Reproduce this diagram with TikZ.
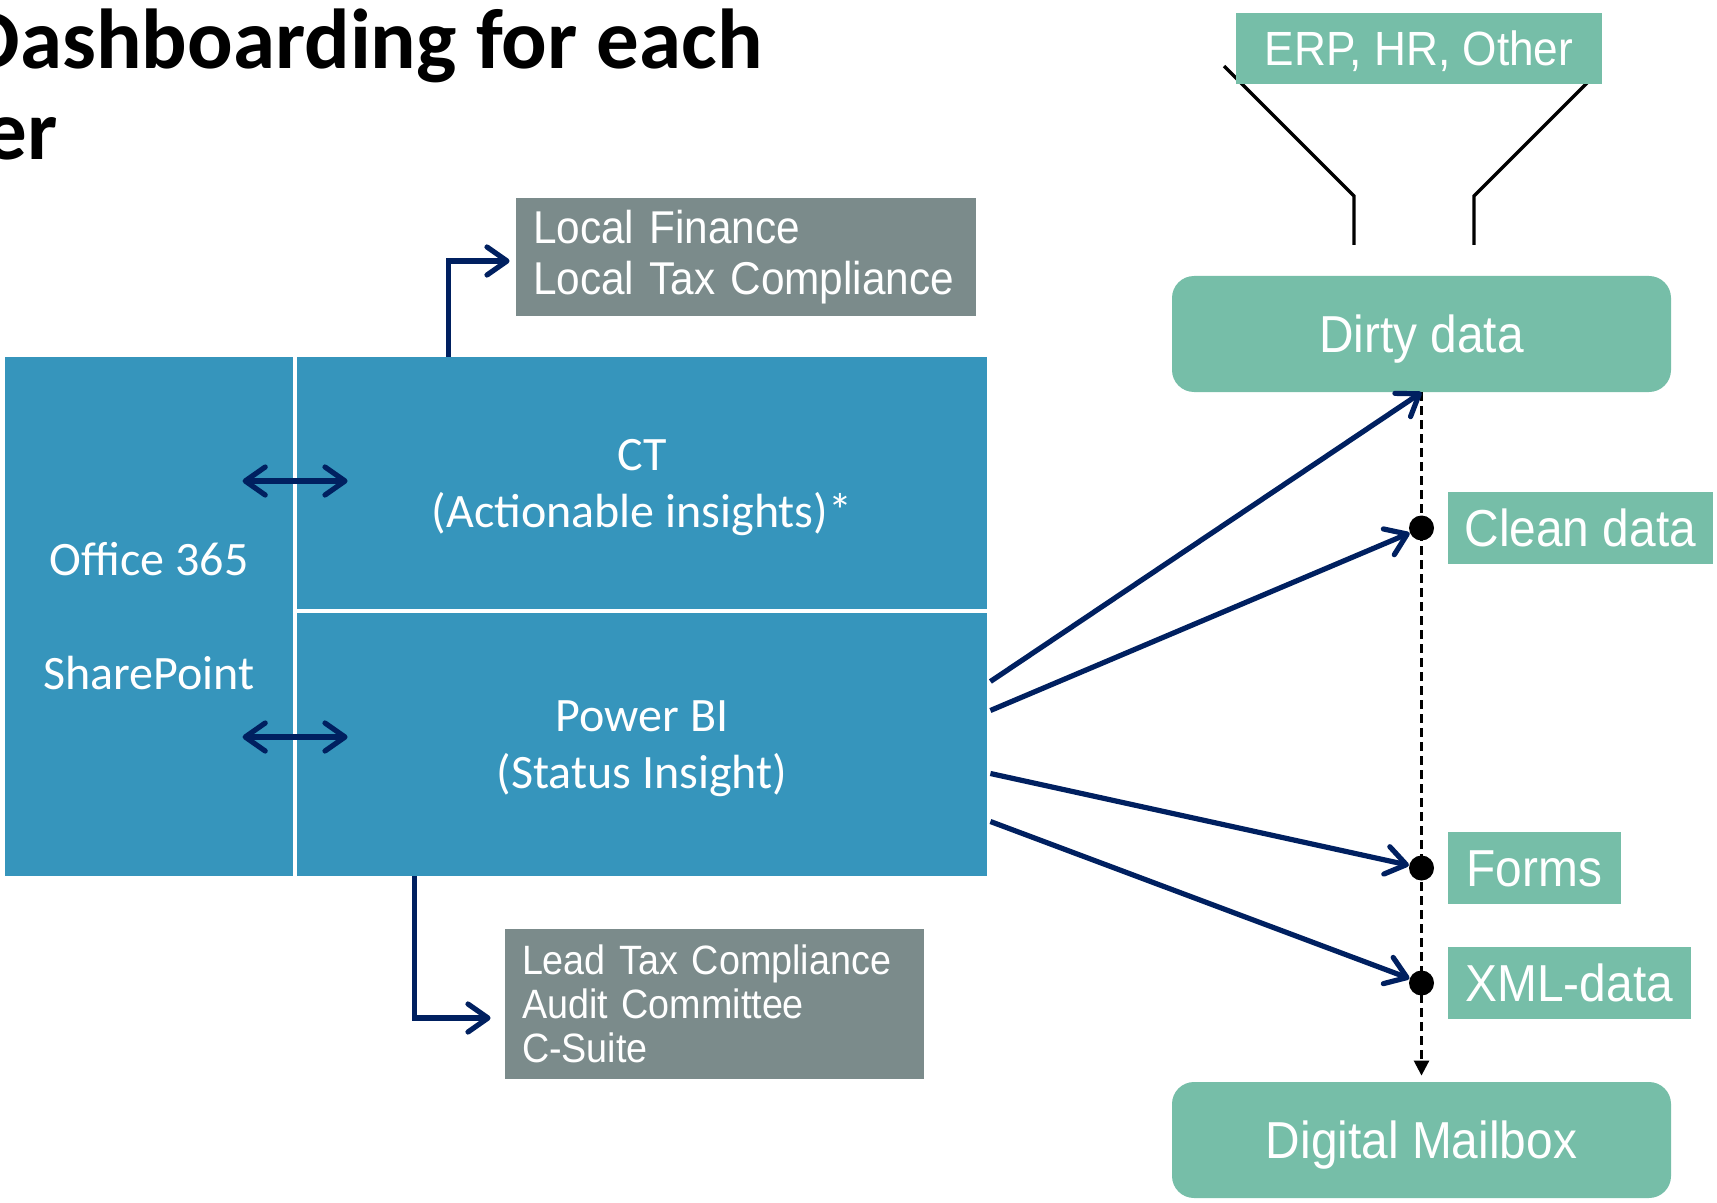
\documentclass[tikz,border=0pt]{standalone}
\usepackage{fontspec}
\setmainfont{Carlito}
\newfontfamily\rfont[FakeStretch=0.92]{Liberation Sans}
\usepackage{tikz}
\usetikzlibrary{positioning,arrows.meta}

\definecolor{tileblue}{HTML}{3695BC}
\definecolor{mint}{HTML}{76BEA8}
\definecolor{slate}{HTML}{7B8B8B}
\definecolor{navy}{HTML}{002060}

\tikzset{
  tilebox/.style={fill=tileblue,text=white,align=center,inner sep=0pt,font=\fontsize{24}{28.5}\selectfont},
  mintbox/.style={fill=mint,text=white,inner sep=0pt,minimum height=36pt,text height=18.6pt,text depth=0pt,font=\rfont\fontsize{26}{30}\selectfont},
  mintround/.style={mintbox,rounded corners=11pt,minimum width=249.5pt,minimum height=58pt},
  slatebox/.style={fill=slate,text=white,align=left,inner xsep=8.5pt,inner ysep=0pt},
  flow/.style={navy,line width=2.6pt},
  joint/.style={circle,fill=black,inner sep=0pt,minimum size=12.5pt},
  headline/.style={anchor=base east,inner sep=0pt,font=\bfseries\fontsize{42.5}{45}\selectfont}
}

\begin{document}
\begin{tikzpicture}[x=0.5pt,y=-0.5pt,>={Straight Barb[length=10pt,width=14pt,round]}]
\useasboundingbox (0,0) rectangle (1717,1203);
\clip (0,0) rectangle (1717,1203);
% title
\node[headline] (title) at (763,69) {Dashboarding for each};
\node[headline] (title2) at (58,160) {er};
% platform
\node[tilebox,minimum width=144pt,minimum height=259.5pt] (office) at (149,616.5) {Office 365\\[28.5pt]SharePoint};
\node[tilebox,text depth=0pt,minimum width=345pt,minimum height=126pt] (ct) at (642,483) {CT\\(Actionable insights)*};
\node[tilebox,text depth=0pt,minimum width=345pt,minimum height=131.5pt] (pbi) at (642,744.5) {Power BI\\(Status Insight)};
\draw[flow,<->] ([xshift=-27pt,yshift=1pt]ct.west) -- ([xshift=25.5pt,yshift=1pt]ct.west);
\draw[flow,<->] ([xshift=-27pt,yshift=3.75pt]pbi.west) -- ([xshift=25.5pt,yshift=3.75pt]pbi.west);
% audiences
\node[slatebox,text width=213pt,minimum height=59pt,font=\rfont\fontsize{23}{25.5}\selectfont] (local) at (746,257) {Local Finance\\Local Tax Compliance};
\node[slatebox,text width=192.5pt,minimum height=75pt,font=\rfont\fontsize{20.5}{22}\selectfont] (lead) at (714.5,1004) {Lead Tax Compliance\\Audit Committee\\C-Suite};
\draw[flow,->,shorten >=3pt] ([xshift=76pt]ct.north west) |- ([yshift=-2pt]local.west);
\draw[flow,->,shorten >=7pt] ([xshift=59pt]pbi.south west) |- ([yshift=-7pt]lead.west);
% sources
\draw[line width=1.7pt] (1224,66) -- (1354,196) -- (1354,245);
\draw[line width=1.7pt] (1590,80) -- (1474,196) -- (1474,245);
\node[mintbox,minimum width=183pt,minimum height=35.5pt,text height=17.2pt,font=\rfont\fontsize{24}{28}\selectfont] (erp) at (1419,48.5) {ERP, HR, Other};
\node[mintround] (dirty) at (1421.5,334) {Dirty data};
\node[mintround] (mailbox) at (1421.5,1140) {Digital Mailbox};
\draw[line width=1.3pt,dash pattern=on 4.5pt off 2.5pt,-{Triangle[length=7.5pt,width=7.5pt]},shorten >=3pt] (dirty) -- (mailbox);
\node[joint] (cdot) at (1421.5,528) {};
\node[joint] (fdot) at (1421.5,868) {};
\node[joint] (xdot) at (1421.5,983) {};
\node[mintbox,minimum width=132.5pt,right=6.5pt of cdot] (clean) {Clean data};
\node[mintbox,minimum width=86.5pt,right=6.5pt of fdot] (forms) {Forms};
\node[mintbox,minimum width=121.5pt,right=6.5pt of xdot] (xml) {XML-data};
% flows
\draw[flow,->] ([shift={(3,-63)}]pbi.east) -- (dirty.south);
\draw[flow,->] ([shift={(3,-34)}]pbi.east) -- (cdot);
\draw[flow,->] ([shift={(3,29)}]pbi.east) -- (fdot);
\draw[flow,->] ([shift={(3,77)}]pbi.east) -- (xdot);
\end{tikzpicture}
\end{document}
